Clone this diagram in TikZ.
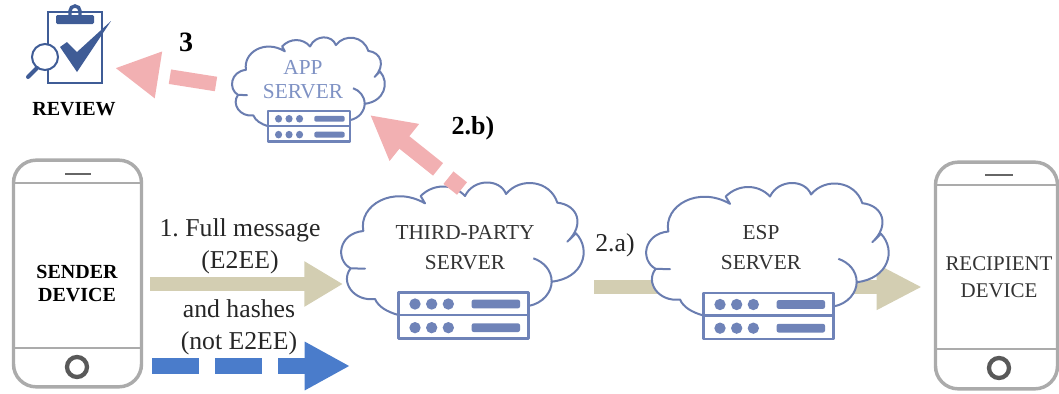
\documentclass[tikz,border=0pt]{standalone}
\usepackage{fontspec}
\setmainfont{Liberation Serif}
\frenchspacing
\usetikzlibrary{arrows.meta}
\definecolor{cloudblue}{HTML}{6A7DB0}
\definecolor{srvblue}{HTML}{6F83B8}
\definecolor{apptext}{HTML}{7F92C4}
\definecolor{pinkarrow}{HTML}{F2B0B2}
\definecolor{goldarrow}{HTML}{D3CEB2}
\definecolor{bluearrow}{HTML}{4A7CCB}
\definecolor{phonegray}{HTML}{ABABAB}
\definecolor{icondark}{HTML}{3F5C96}
\tikzset{
  label big/.style={font=\fontsize{19.3}{24}\selectfont, text=black!85, inner sep=0pt, align=center},
  label bold/.style={font=\bfseries\fontsize{19.5}{24}\selectfont, text=black, inner sep=0pt},
  device label/.style={font=\bfseries\fontsize{15}{17.5}\selectfont, inner sep=0pt, align=center},
  server label/.style={font=\fontsize{16}{22.5}\selectfont, text=black!80, inner sep=0pt, align=center},
  phone/.style={draw=phonegray, line width=2.6pt, rounded corners=17pt, fill=white, inner sep=0pt},
  phone rule/.style={draw=phonegray, line width=1.9pt},
  phone slot/.style={draw=black!60, line width=2.2pt},
  phone button/.style={draw=black!65, line width=3.2pt, circle, minimum size=15pt, inner sep=0pt},
  gold shaft/.style={draw=goldarrow, line width=11pt, -{Triangle[length=#1, width=32pt]}},
  pink shaft/.style={draw=pinkarrow, line width=12pt, -{Triangle[length=33pt, width=33pt]}},
  cloudsrv/.pic={
    \begin{scope}[x=0.25pt,y=-0.25pt,line width=1.5pt,draw=cloudblue,line join=round]
    \path[draw,fill=white] (205,435) .. controls (170,425) and (145,410) .. (135,387)
      .. controls (70,395) and (30,335) .. (62,295) -- (105,296) -- (62,295)
      .. controls (15,270) and (25,190) .. (100,183)
      .. controls (85,105) and (190,45) .. (285,100) -- (272,78)
      .. controls (310,40) and (370,40) .. (405,78)
      .. controls (430,25) and (510,25) .. (528,72)
      .. controls (570,20) and (660,30) .. (682,98)
      .. controls (745,105) and (765,165) .. (712,215) -- (738,190)
      .. controls (785,240) and (760,325) .. (665,335)
      .. controls (665,365) and (640,400) .. (595,408) -- (400,440) -- cycle;
    \draw (610,265) .. controls (640,275) and (665,300) .. (665,335);
    \path[draw=srvblue,line width=2pt,fill=white] (205,367) rectangle (595,435) (205,435) rectangle (595,505);
    \foreach \yy in {402,473}{
      \fill[srvblue] (255,\yy) circle[radius=17] (305,\yy) circle[radius=17] (355,\yy) circle[radius=17];
      \fill[srvblue,rounded corners=1.5pt] (425,\yy-13) rectangle (570,\yy+13);
    }
    \end{scope}
  }
}
\begin{document}
\begin{tikzpicture}[x=0.75pt,y=-0.75pt]
\useasboundingbox (0,0) rectangle (1059,393);

% phones
\node[phone, minimum width=96pt, minimum height=170pt] (senderphone) at (77.5,273.5) {};
\draw[phone rule] (senderphone.west |- 0,183) -- (senderphone.east |- 0,183);
\draw[phone rule] (senderphone.west |- 0,348) -- (senderphone.east |- 0,348);
\draw[phone slot] (65,174) -- (91,174);
\node[phone button] (senderhome) at (77,367) {};
\node[device label] (sender) at (77,283.5) {SENDER\\DEVICE};

\node[phone, minimum width=91.5pt, minimum height=170pt] (recipphone) at (996.5,275.5) {};
\draw[phone rule] (recipphone.west |- 0,185) -- (recipphone.east |- 0,185);
\draw[phone rule] (recipphone.west |- 0,349) -- (recipphone.east |- 0,349);
\draw[phone slot] (985,175) -- (1013,175);
\node[phone button] (reciphome) at (999,368) {};
\node[server label,font=\fontsize{15.7}{20}\selectfont] (recipient) at (999,277) {RECIPIENT\\DEVICE};

% connector ends
\coordinate (a1s) at (150,284);  \coordinate (a1e) at (343,284);
\coordinate (a2s) at (594,287);  \coordinate (a2e) at (922,287);
\coordinate (hs) at (152,366);   \coordinate (he) at (350,366);
\coordinate (bs) at (462,188.5); \coordinate (be) at (370,115);
\coordinate (ts) at (216,84);    \coordinate (te) at (115,68);

% arrows behind the clouds
\draw[gold shaft=29pt] (a1s) -- (a1e);
\draw[gold shaft=34pt] (a2s) -- (a2e);
\draw[draw=bluearrow,line width=12pt,dash pattern=on 35.25pt off 12pt,-{Triangle[length=34pt,width=34pt]}] (hs) -- (he);

% clouds
\pic at (330,170) {cloudsrv};
\pic at (635,170.5) {cloudsrv};
\pic[xscale=0.63,yscale=0.67] at (225,29) {cloudsrv};

% pink arrows
\draw[pink shaft,dash pattern=on 13pt off 10pt on 150pt] (bs) -- (be);
\draw[pink shaft,line width=11pt,dash pattern=on 35pt off 100pt] (ts) -- (te);

% review icon
\begin{scope}[icondark]
  \draw[line width=1.7pt] (48,12) rectangle (102,83);
  \fill[rounded corners=1pt] (56,15) rectangle (94,24);
  \draw[line width=2.6pt] (70,16) -- (70,11) arc[start angle=180,end angle=360,radius=5] -- (80,16);
  \fill (60,47) -- (77,72) -- (111,21) -- (77,52) -- (67,42) -- cycle;
  \fill[white] (45,57) circle[radius=13];
  \draw[line width=1.5pt] (45,57) circle[radius=13];
  \draw[line width=3pt,line cap=round] (37,68) -- (28,77);
\end{scope}
\node[device label] (review) at (74,109) {REVIEW};

% labels
\node[label bold,font=\bfseries\fontsize{21}{24}\selectfont] (lab3) at (186,42) {3};
\node[label bold] (lab2b) at (473,128) {2.b)};
\node[label big] (lab2a) at (615,245) {2.a)};
\node[label big] (lab1) at (240,246) {1. Full message\\(E2EE)};
\node[label big] (labh) at (239,327) {and hashes\\(not E2EE)};
\node[server label] (third) at (465,248) {THIRD-PARTY\\SERVER};
\node[server label] (esp) at (761,248) {ESP\\SERVER};
\node[server label,text=apptext,font=\fontsize{16}{18}\selectfont] (app) at (303,80) {APP\\SERVER};
\end{tikzpicture}
\end{document}
